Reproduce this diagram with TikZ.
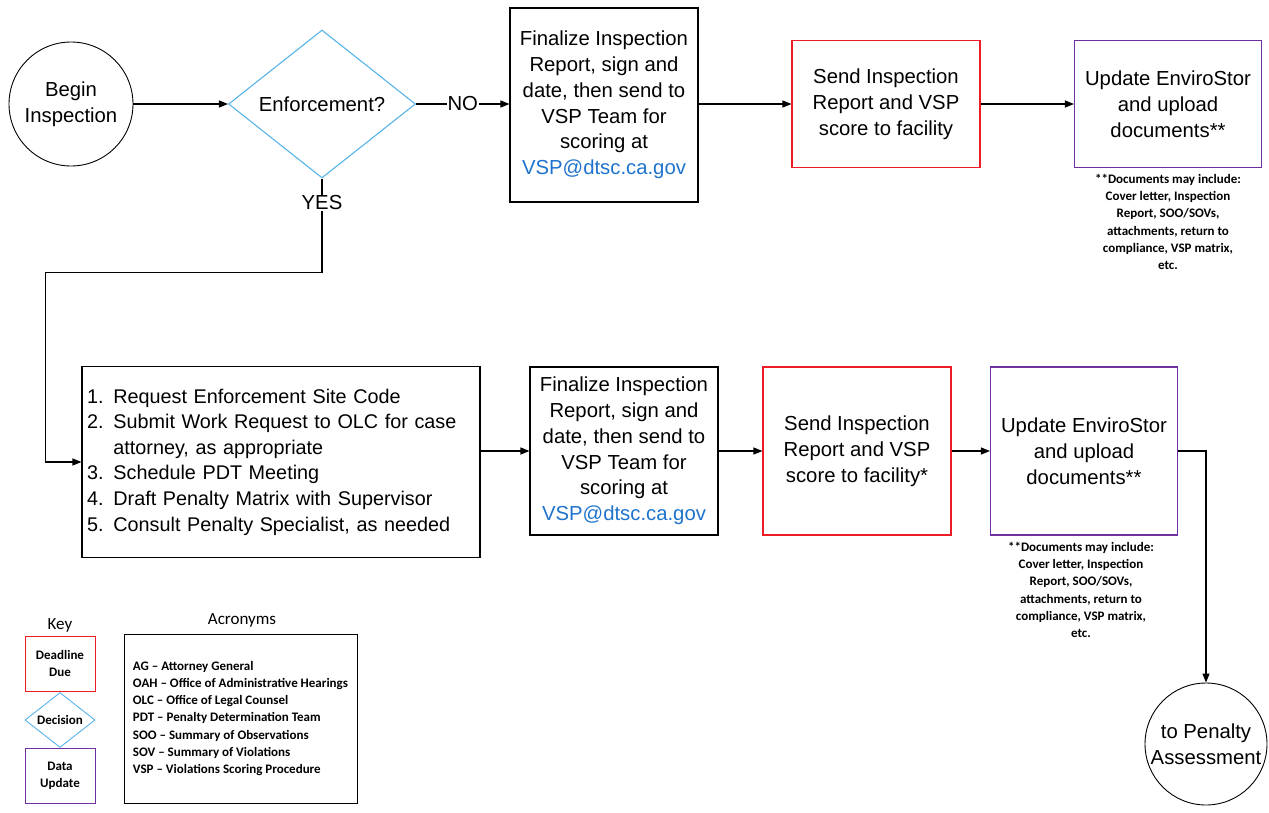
\documentclass[tikz,border=0pt]{standalone}
\usepackage{fontspec}
\setmainfont{Liberation Sans}
\newfontfamily\calib{Carlito}
\usetikzlibrary{arrows.meta,positioning,shapes.geometric}
\definecolor{deadred}{RGB}{237,28,36}
\definecolor{decblue}{RGB}{86,180,233}
\definecolor{datapurple}{RGB}{112,48,160}
\definecolor{mailblue}{RGB}{30,115,205}

\begin{document}
\begin{tikzpicture}[x=1pt,y=-1pt,
font=\fontsize{20.3}{25.8}\selectfont,
stepbox/.style={draw,line width=1.1pt,align=center,inner sep=2pt},
deadline/.style={stepbox,draw=deadred},
dataupd/.style={stepbox,draw=datapurple},
decision/.style={diamond,draw=decblue,line width=1.1pt,inner sep=0pt,align=center},
terminal/.style={circle,draw,line width=0.9pt,align=center,inner sep=0pt},
note/.style={font=\calib\bfseries\fontsize{13}{17.3}\selectfont,align=center},
keytitle/.style={font=\calib\fontsize{17}{20}\selectfont},
arr/.style={-{Triangle[length=9pt,width=7pt]},line width=1.1pt}]
\useasboundingbox (0,0) rectangle (1269,812);
% top row: no enforcement
\node[terminal,minimum size=124pt](begin) at (71,104){Begin\\Inspection};
\node[decision,minimum width=187pt,minimum height=148pt](enf) at (322,104){Enforcement?};
\node[stepbox,minimum width=188pt,minimum height=194pt](final1) at (604,105){Finalize Inspection\\Report, sign and\\date, then send to\\VSP Team for\\scoring at\\\textcolor{mailblue}{VSP@dtsc.ca.gov}};
\node[deadline,minimum width=188pt,minimum height=127pt](send1) at (886,104){Send Inspection\\Report and VSP\\score to facility};
\node[dataupd,minimum width=187pt,minimum height=127pt](upd1) at (1168,104){Update EnviroStor\\and upload\\documents**};
\node[note](docs1) at (1168,222){**Documents may include:\\Cover letter, Inspection\\Report, SOO/SOVs,\\attachments, return to\\compliance, VSP matrix,\\etc.};
\node[inner sep=1pt](yes) at (322,203){YES};
% bottom row: enforcement
\node[stepbox,align=left,text width=388pt,inner sep=5pt,minimum height=191pt,font=\fontsize{19.8}{25.6}\selectfont](tasks) at (281,462){1. Request Enforcement Site Code\\2. Submit Work Request to OLC for case\\\phantom{2. }attorney, as appropriate\\3. Schedule PDT Meeting\\4. Draft Penalty Matrix with Supervisor\\5. Consult Penalty Specialist, as needed};
\node[stepbox,minimum width=188pt,minimum height=168pt](final2) at (624,451){Finalize Inspection\\Report, sign and\\date, then send to\\VSP Team for\\scoring at\\\textcolor{mailblue}{VSP@dtsc.ca.gov}};
\node[deadline,minimum width=188pt,minimum height=168pt](send2) at (857,451){Send Inspection\\Report and VSP\\score to facility*};
\node[dataupd,minimum width=187pt,minimum height=168pt](upd2) at (1084,451){Update EnviroStor\\and upload\\documents**};
\node[note](docs2) at (1081,590){**Documents may include:\\Cover letter, Inspection\\Report, SOO/SOVs,\\attachments, return to\\compliance, VSP matrix,\\etc.};
\node[terminal,minimum size=122pt](penalty) at (1206,744){to Penalty\\Assessment};
% key and acronyms
\node[keytitle](keyt) at (60,625){Key};
\node[deadline,note,line width=0.9pt,minimum width=70pt,minimum height=55pt](keydead) at (60,663.5){Deadline\\Due};
\node[decision,note,line width=0.9pt,minimum width=70pt,minimum height=54pt](keydec) at (60,720){Decision};
\node[dataupd,note,line width=0.9pt,minimum width=70pt,minimum height=55pt](keydata) at (60,775.5){Data\\Update};
\node[keytitle](acrt) at (242,620){Acronyms};
\node[stepbox,note,align=left,line width=0.9pt,minimum width=233pt,minimum height=169pt](acr) at (240.5,718.5){AG – Attorney General\\OAH – Office of Administrative Hearings\\OLC – Office of Legal Counsel\\PDT – Penalty Determination Team\\SOO – Summary of Observations\\SOV – Summary of Violations\\VSP – Violations Scoring Procedure};
% connectors
\draw[arr](begin)--(enf);
\draw[arr](enf.east)--node[fill=white,inner sep=1pt]{NO}(enf.east -| final1.west);
\draw[arr](final1.east |- send1)--(send1);
\draw[arr](send1)--(upd1);
\draw[line width=1.1pt](enf.south)--(yes.north);
\draw[arr](yes.south)--++(0,61)-|([xshift=-36pt]tasks.west)--(tasks.west);
\draw[arr](tasks.east |- final2)--(final2);
\draw[arr](final2)--(send2);
\draw[arr](send2)--(upd2);
\draw[arr](upd2)-|(penalty);
\end{tikzpicture}
\end{document}
